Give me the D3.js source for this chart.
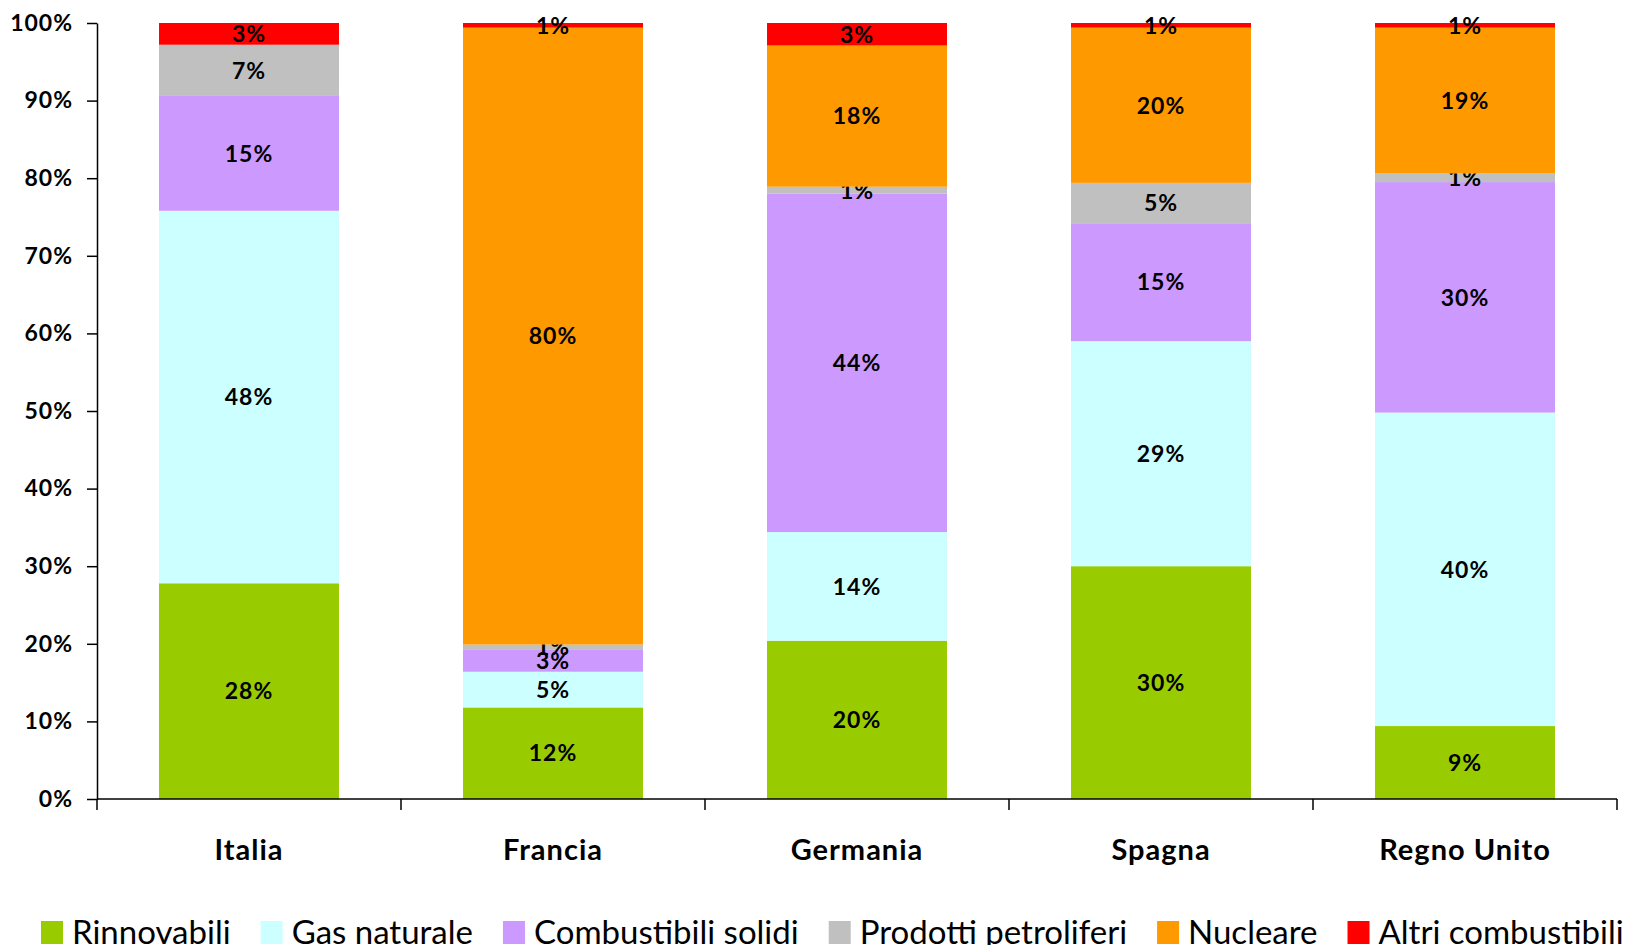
<!DOCTYPE html>
<html>
<head>
  <meta charset="utf-8">
  <script src="https://cdn.jsdelivr.net/npm/d3@7"></script>
  <style>
    body { margin: 0; background: #fff; }
    svg { display: block; }
    .axis path, .axis line { stroke: #000; stroke-width: 1.5px; }
    .axis text { font-family: Lato, sans-serif; font-weight: bold; fill: #000; }
  </style>
</head>
<body>
  <svg width="1626" height="945"></svg>
  <script>
    // countries and energy sources
    var countries = ["Italia", "Francia", "Germania", "Spagna", "Regno Unito"];
    var sources = ["Rinnovabili", "Gas naturale", "Combustibili solidi", "Prodotti petroliferi", "Nucleare", "Altri combustibili"];
    var colours = ["#99CC00", "#CCFFFF", "#CC99FF", "#C0C0C0", "#FF9900", "#FF0000"];

    // shares (%) per country, same order as sources
    var rinnovabili = [27.8, 11.8, 20.4, 30.0, 9.4];
    var gasNaturale = [48.0, 4.6, 14.0, 29.0, 40.4];
    var solidi = [14.8, 2.9, 43.6, 15.2, 29.7];
    var petroliferi = [6.6, 0.6, 0.9, 5.2, 1.1];
    var nucleare = [0, 79.5, 18.2, 20.0, 18.8];
    var altri = [2.8, 0.6, 2.9, 0.6, 0.6];

    var yTicks = [0, 10, 20, 30, 40, 50, 60, 70, 80, 90, 100];

    var series = [rinnovabili, gasNaturale, solidi, petroliferi, nucleare, altri];

    var rows = countries.map(function(c, i) {
      var r = { country: c };
      sources.forEach(function(s, j) { r[s] = series[j][i]; });
      return r;
    });

    var svg = d3.select("svg");

    var plotLeft = 97, plotRight = 1617, plotTop = 23, plotBottom = 799;

    var x = d3.scaleBand()
      .domain(countries)
      .range([plotLeft, plotRight])
      .paddingInner(0.408)
      .paddingOuter(0.204);

    var y = d3.scaleLinear()
      .domain([0, 100])
      .range([plotBottom, plotTop]);

    var colour = d3.scaleOrdinal().domain(sources).range(colours);

    var stacked = d3.stack().keys(sources)(rows);

    //bars
    var layer = svg.append("g")
      .selectAll("g")
      .data(stacked)
      .enter()
      .append("g")
      .attr("fill", function(d) { return colour(d.key); });

    layer.selectAll("rect")
      .data(function(d) { return d; })
      .enter()
      .append("rect")
      .attr("x", function(d) { return x(d.data.country); })
      .attr("y", function(d) { return y(d[1]); })
      .attr("width", x.bandwidth())
      .attr("height", function(d) { return y(d[0]) - y(d[1]); });

    //value labels
    layer.selectAll("text")
      .data(function(d) { return d.filter(function(p) { return p[1] - p[0] > 0; }); })
      .enter()
      .append("text")
      .attr("x", function(d) { return x(d.data.country) + x.bandwidth() / 2; })
      .attr("y", function(d) { return (y(d[0]) + y(d[1])) / 2; })
      .attr("dy", "0.36em")
      .attr("text-anchor", "middle")
      .attr("font-family", "Lato, sans-serif")
      .attr("font-weight", "bold")
      .attr("font-size", "23px")
      .attr("letter-spacing", "1px")
      .attr("fill", "#000")
      .text(function(d) { return Math.round(d[1] - d[0]) + "%"; });

    //y axis
    svg.append("g")
      .attr("class", "axis")
      .attr("transform", "translate(" + plotLeft + ",0)")
      .call(d3.axisLeft(y)
        .tickValues(yTicks)
        .tickFormat(function(d) { return d + "%"; })
        .tickSize(10)
        .tickSizeOuter(0)
        .tickPadding(14))
      .selectAll("text")
      .attr("font-size", "23px")
      .attr("letter-spacing", "1px");

    //x axis with ticks between categories
    var step = x.step();
    var bounds = countries.map(function(c) { return x(c) - step * x.paddingInner() / 2; });
    bounds.push(plotRight);

    var xAxis = svg.append("g")
      .attr("class", "axis");

    xAxis.append("line")
      .attr("x1", plotLeft).attr("x2", plotRight)
      .attr("y1", plotBottom).attr("y2", plotBottom);

    xAxis.selectAll(".tick")
      .data(bounds)
      .enter()
      .append("line")
      .attr("x1", function(d) { return d; })
      .attr("x2", function(d) { return d; })
      .attr("y1", plotBottom)
      .attr("y2", plotBottom + 11);

    xAxis.selectAll(".cat")
      .data(countries)
      .enter()
      .append("text")
      .attr("x", function(d) { return x(d) + x.bandwidth() / 2; })
      .attr("y", 850)
      .attr("dy", "0.36em")
      .attr("text-anchor", "middle")
      .attr("font-size", "29px")
      .attr("letter-spacing", "1px")
      .text(function(d) { return d; });

    //legend (sits at the very bottom edge, as in the source)
    var legend = svg.append("g");
    var lx = 41;
    sources.forEach(function(s) {
      var item = legend.append("g").attr("transform", "translate(" + lx + ",0)");
      item.append("rect")
        .attr("x", 0).attr("y", 921)
        .attr("width", 22).attr("height", 23)
        .attr("fill", colour(s));
      var t = item.append("text")
        .attr("x", 31).attr("y", 944)
        .attr("font-family", "Lato, sans-serif")
        .attr("font-size", "33px")
        .attr("fill", "#000")
        .text(s);
      lx += 31 + t.node().getComputedTextLength() + 30;
    });
  </script>
</body>
</html>
